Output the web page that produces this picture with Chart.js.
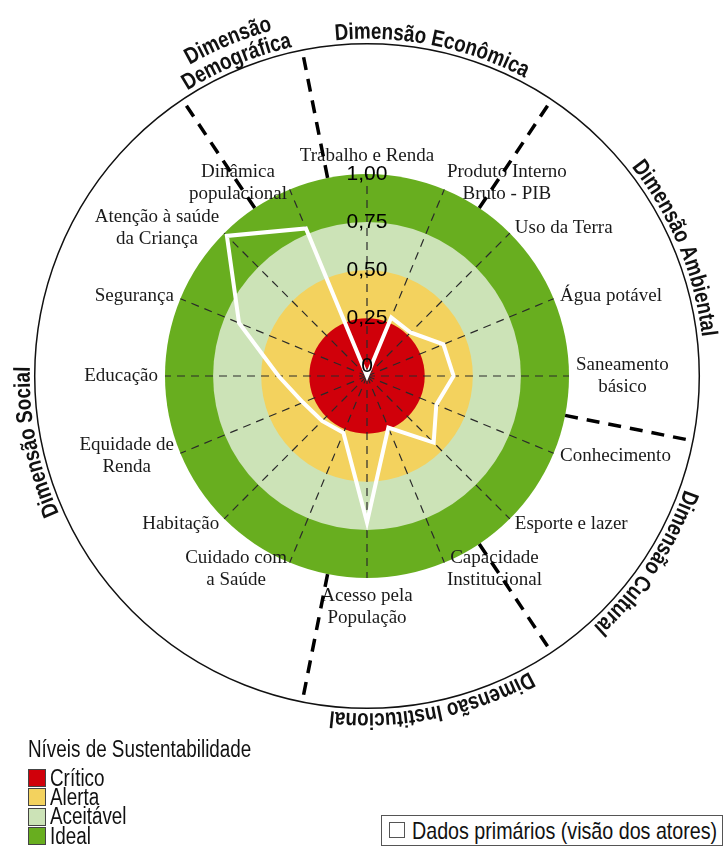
<!DOCTYPE html>
<html lang="pt">
<head>
<meta charset="utf-8">
<title>Níveis de Sustentabilidade</title>
<script src="https://cdn.jsdelivr.net/npm/chart.js@4.4.1/dist/chart.umd.min.js"></script>
<style>
  html, body { margin: 0; padding: 0; background: #fff; }
  #wrap { position: relative; width: 723px; height: 846px; overflow: hidden; }
  #radar { position: absolute; left: 0; top: 0; }
  .txt {
    position: absolute; white-space: nowrap; color: #111;
    font: 23px/23px "Liberation Sans", Arial, sans-serif;
    transform: scaleX(0.82); transform-origin: 0 50%;
  }
  .sw { position: absolute; width: 16px; height: 16px; border: 1px solid #444; }
  #dadosBox { position: absolute; left: 381px; top: 815px; width: 340px; height: 29px; border: 1px solid #555; background: #fff; }
</style>
</head>
<body>
<div id="wrap">
  <canvas id="radar" width="723" height="846"></canvas>
  <div id="legendaNiveis"></div>
  <div id="dadosBox"></div>
</div>
<script>
// ---- dados --------------------------------------------------------------
const indicadores = [
  "Trabalho e Renda",
  ["Produto Interno", "Bruto - PIB"],
  "Uso da Terra",
  "Água potável",
  ["Saneamento", "básico"],
  "Conhecimento",
  "Esporte e lazer",
  ["Capacidade", "Institucional"],
  ["Acesso pela", "População"],
  ["Cuidado com", "a Saúde"],
  "Habitação",
  ["Equidade de", "Renda"],
  "Educação",
  "Segurança",
  ["Atenção à saúde", "da Criança"],
  ["Dinâmica", "populacional"]
];

// dimensão de cada indicador (mesma ordem)
const dimensaoDe = [
  "Econômica", "Econômica",
  "Ambiental", "Ambiental", "Ambiental",
  "Cultural", "Cultural",
  "Institucional", "Institucional",
  "Social", "Social", "Social", "Social", "Social", "Social",
  "Demográfica"
];
const dimensaoTitulo = {
  "Econômica": ["Dimensão Econômica"],
  "Ambiental": ["Dimensão Ambiental"],
  "Cultural": ["Dimensão Cultural"],
  "Institucional": ["Dimensão Institucional"],
  "Social": ["Dimensão Social"],
  "Demográfica": ["Demográfica", "Dimensão"] // de dentro para fora
};

const serieNome = "Dados primários (visão dos atores)";
// o vértice de "Trabalho e Renda" fica no centro do gráfico
const visaoAtores = [-0.05, 0.28, 0.27, 0.38, 0.40, 0.34, 0.44, 0.24,
                     0.71, 0.27, 0.28, 0.31, 0.41, 0.67, 0.98, 0.78];

const tickValues = [0, 0.25, 0.5, 0.75, 1];

const niveis = ["Crítico", "Alerta", "Aceitável", "Ideal"];
const niveisLimite = [0.25, 0.5, 0.75, 1];
const niveisCor = ["#d0000a", "#f3d25e", "#cce3b7", "#68ae1f"];

// ---- desenho extra (faixas, rótulos, dimensões) -------------------------
const SQUEEZE = 0.82;

function arcText(ctx, text, cx, cy, radius, mid, font) {
  ctx.save();
  ctx.font = font;
  const chars = [...text];
  const w = chars.map((c) => ctx.measureText(c).width * SQUEEZE);
  const total = w.reduce((a, b) => a + b, 0);
  let a = mid - total / 2 / radius;
  ctx.textAlign = "center";
  ctx.textBaseline = "alphabetic";
  chars.forEach((c, k) => {
    const m = a + w[k] / 2 / radius;
    ctx.save();
    ctx.translate(cx + radius * Math.sin(m), cy - radius * Math.cos(m));
    ctx.rotate(m);
    ctx.scale(SQUEEZE, 1);
    ctx.fillText(c, 0, 0);
    ctx.restore();
    a += w[k] / radius;
  });
  ctx.restore();
}

const decor = {
  id: "decor",
  beforeDraw(chart) {
    const s = chart.scales.r;
    const ctx = chart.ctx;
    ctx.save();
    for (let i = niveisLimite.length - 1; i >= 0; i--) {
      ctx.beginPath();
      ctx.arc(s.xCenter, s.yCenter, s.getDistanceFromCenterForValue(niveisLimite[i]), 0, Math.PI * 2);
      ctx.fillStyle = niveisCor[i];
      ctx.fill();
    }
    ctx.restore();
  },
  afterDraw(chart) {
    const s = chart.scales.r;
    const ctx = chart.ctx;
    const R = s.drawingArea;
    const xc = s.xCenter, yc = s.yCenter;
    const n = indicadores.length;
    const step = (Math.PI * 2) / n;
    const outerR = R * 1.645;

    // rótulos dos indicadores
    ctx.save();
    ctx.font = '19px "Liberation Serif", "Times New Roman", serif';
    ctx.fillStyle = "#1a1a1a";
    ctx.textAlign = "center";
    ctx.textBaseline = "middle";
    const lh = 22;
    indicadores.forEach((lab, i) => {
      const lines = [].concat(lab);
      const ang = s.getIndexAngle(i);
      const deg = Math.round((ang * 180) / Math.PI) % 360;
      const d = R + 7;
      const px = xc + d * Math.sin(ang);
      const py = yc - d * Math.cos(ang);
      const w = Math.max(...lines.map((t) => ctx.measureText(t).width));
      const h = lines.length * lh;
      const cx = deg === 0 || deg === 180 ? px : deg < 180 ? px + w / 2 : px - w / 2;
      const cy = deg === 0 ? py - h / 2 : deg === 180 ? py + h / 2 : py;
      lines.forEach((t, k) => ctx.fillText(t, cx, cy - h / 2 + lh * (k + 0.5)));
    });
    ctx.restore();

    // círculo externo
    ctx.save();
    ctx.beginPath();
    ctx.arc(xc, yc, outerR, 0, Math.PI * 2);
    ctx.strokeStyle = "#111";
    ctx.lineWidth = 1.5;
    ctx.stroke();

    // divisões entre dimensões
    ctx.lineWidth = 3.5;
    ctx.setLineDash([13, 9]);
    ctx.strokeStyle = "#000";
    for (let i = 0; i < n; i++) {
      if (dimensaoDe[i] === dimensaoDe[(i - 1 + n) % n]) continue;
      const a = s.getIndexAngle(i) - step / 2;
      ctx.beginPath();
      ctx.moveTo(xc + R * Math.sin(a), yc - R * Math.cos(a));
      ctx.lineTo(xc + outerR * Math.sin(a), yc - outerR * Math.cos(a));
      ctx.stroke();
    }
    ctx.restore();

    // nomes das dimensões, ao longo do círculo
    ctx.save();
    ctx.fillStyle = "#111";
    let i = 0;
    while (i < n) {
      let j = i;
      while (j + 1 < n && dimensaoDe[j + 1] === dimensaoDe[i]) j++;
      const mid = (s.getIndexAngle(i) + s.getIndexAngle(j)) / 2;
      dimensaoTitulo[dimensaoDe[i]].forEach((t, k) => {
        arcText(ctx, t, xc, yc, outerR + 5 + k * 21, mid, 'bold 23px "Liberation Sans", Arial, sans-serif');
      });
      i = j + 1;
    }
    ctx.restore();
  }
};

new Chart(document.getElementById("radar"), {
  type: "radar",
  data: {
    labels: indicadores,
    datasets: [{
      label: serieNome,
      data: visaoAtores,
      borderColor: "#ffffff",
      borderWidth: 4,
      backgroundColor: "rgba(0,0,0,0)",
      fill: false,
      pointRadius: 0,
      pointHoverRadius: 0
    }]
  },
  options: {
    responsive: false,
    animation: false,
    layout: { padding: { left: 155, top: 164, right: 143, bottom: 257 } },
    plugins: { legend: { display: false }, tooltip: { enabled: false } },
    scales: {
      r: {
        min: -0.05,
        max: 1,
        afterBuildTicks: (sc) => { sc.ticks = tickValues.map((v) => ({ value: v })); },
        ticks: {
          z: 1,
          color: "#000",
          showLabelBackdrop: false,
          backdropPadding: 0,
          font: { family: '"Liberation Sans", Arial, sans-serif', size: 21 },
          callback: (v) => (v === 0 ? "0" : v.toFixed(2).replace(".", ","))
        },
        grid: { display: false },
        angleLines: { color: "#2a2a2a", lineWidth: 1.2, borderDash: [8, 6] },
        pointLabels: { display: false }
      }
    }
  },
  plugins: [decor]
});

// ---- legendas ------------------------------------------------------------
const leg = document.getElementById("legendaNiveis");
let html = '<div class="txt" style="left:28px;top:738px">Níveis de Sustentabilidade</div>';
niveis.forEach((nome, k) => {
  const y = 778 + k * 19.4;
  html += `<div class="sw" style="left:28px;top:${y - 9}px;background:${niveisCor[k]}"></div>`;
  html += `<div class="txt" style="left:50px;top:${y - 11.5}px">${nome}</div>`;
});
leg.innerHTML = html;

document.getElementById("dadosBox").innerHTML =
  '<div class="sw" style="left:7px;top:6px;width:14px;height:14px;background:#fff;border-color:#555"></div>' +
  `<div class="txt" style="left:30px;top:3px;font-size:24px;line-height:24px">${serieNome}</div>`;
</script>
</body>
</html>
